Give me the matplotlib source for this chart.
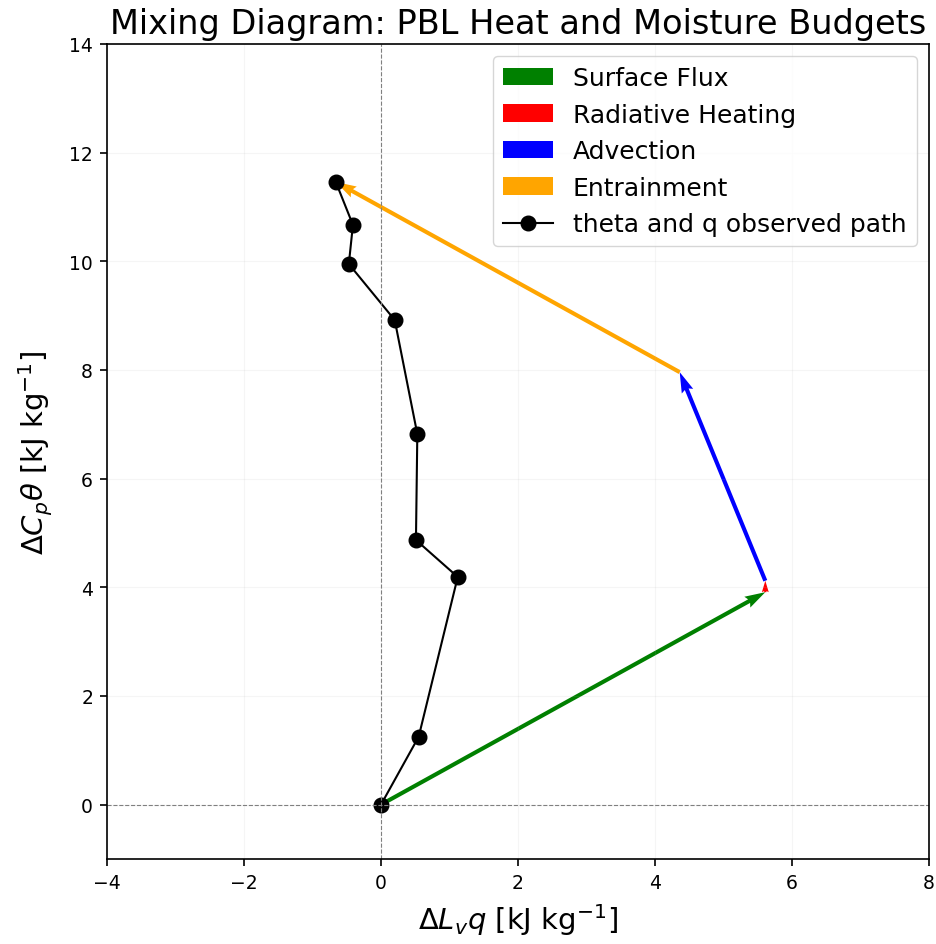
import matplotlib
matplotlib.use("Agg")
import matplotlib.pyplot as plt
import numpy as np

# observed path (Delta Lv q, Delta Cp theta) in kJ/kg
path_q = [0.0, 0.55, 1.12, 0.51, 0.53, 0.20, -0.47, -0.41, -0.66]
path_theta = [0.0, 1.25, 4.19, 4.87, 6.82, 8.92, 9.95, 10.67, 11.46]

# budget vectors
vec_names = ["Surface Flux", "Radiative Heating", "Advection", "Entrainment"]
vec_colors = ["green", "red", "blue", "orange"]
vec_dq = [5.61, 0.0, -1.25, -5.02]
vec_dtheta = [3.91, 0.21, 3.84, 3.50]

fig = plt.figure(figsize=(9.37, 9.45), dpi=100)
ax = fig.add_axes([0.1142, 0.09, 0.8773, 0.8624])

x0, y0 = 0.0, 0.0
for name, c, dq, dth in zip(vec_names, vec_colors, vec_dq, vec_dtheta):
    ax.quiver(x0, y0, dq, dth, angles='xy', scale_units='xy', scale=1,
              color=c, label=name, width=0.005)
    x0 += dq
    y0 += dth

ax.plot(path_q, path_theta, 'k-o', markersize=10.5, linewidth=1.5,
        label='theta and q observed path')

ax.axhline(0, color='gray', linestyle='--', linewidth=0.8)
ax.axvline(0, color='gray', linestyle='--', linewidth=0.8)

ax.set_xlim(-4, 8)
ax.set_ylim(-1, 14)
ax.set_xticks(np.arange(-4, 9, 2))
ax.set_yticks(np.arange(0, 15, 2))
ax.tick_params(labelsize=13.5, length=5, width=1.2, pad=5)
for s in ax.spines.values():
    s.set_linewidth(1.2)
ax.grid(True, alpha=0.12)

ax.set_xlabel(r'$\Delta L_v q$ [kJ kg$^{-1}$]', fontsize=21, labelpad=7)
ax.set_ylabel(r'$\Delta C_p \theta$ [kJ kg$^{-1}$]', fontsize=21, labelpad=10)
ax.set_title('Mixing Diagram: PBL Heat and Moisture Budgets', fontsize=24.2, pad=8)
ax.legend(loc='upper right', fontsize=18)

fig.savefig('out.png', dpi=100)
